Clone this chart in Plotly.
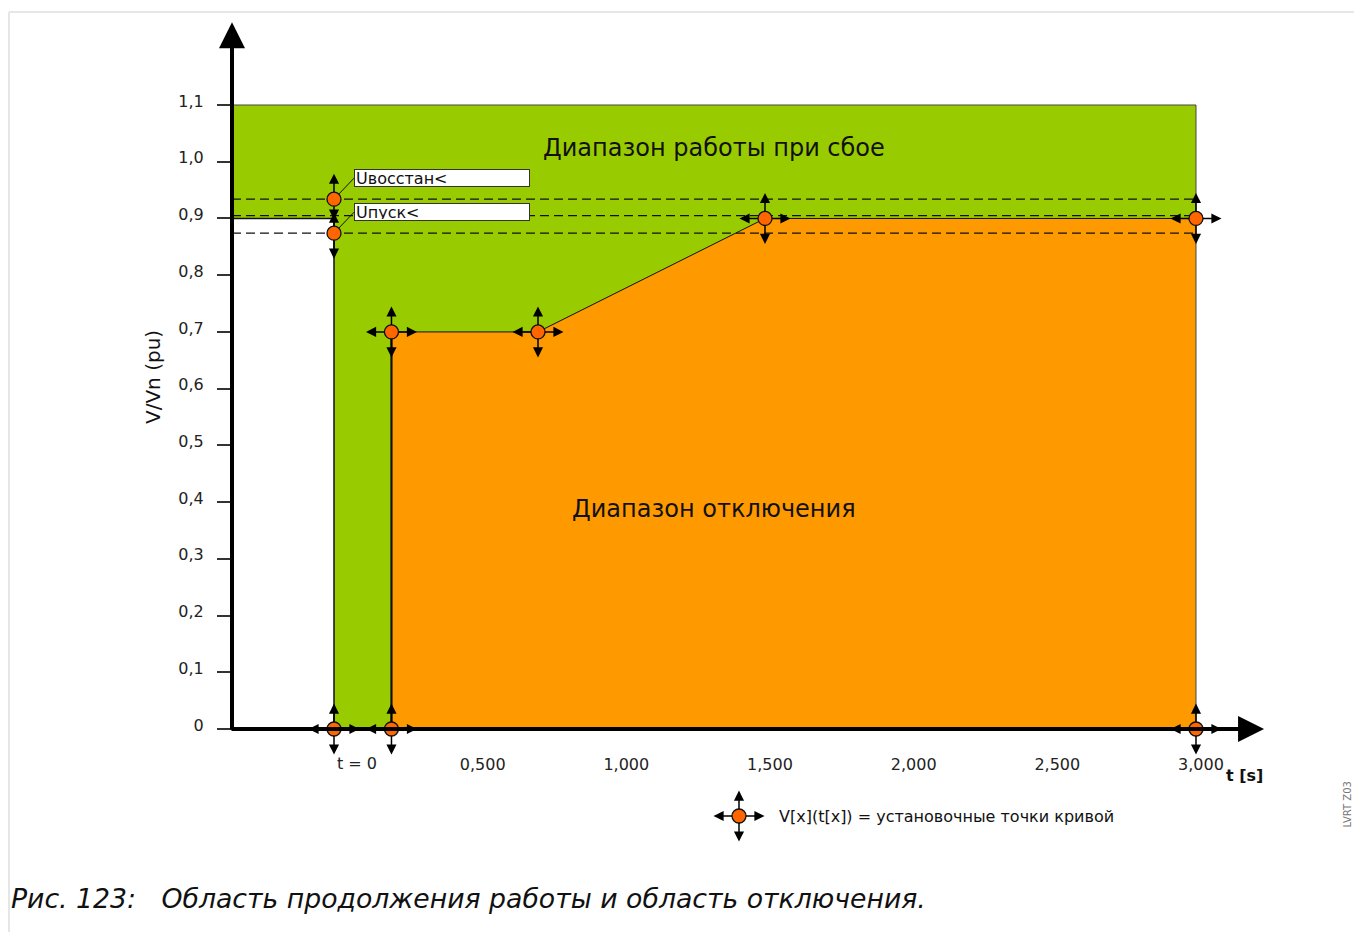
import plotly.graph_objects as go

# setpoints of the LVRT curve (t in s, V in pu)
curve_t = [0.2, 0.2, 0.71, 1.5, 3.0, 3.0]
curve_v = [0.0, 0.7, 0.7, 0.9, 0.9, 0.0]

# orange setpoint markers
point_t = [0.0, 0.0, 0.0, 0.2, 0.2, 0.71, 1.5, 3.0, 3.0]
point_v = [0.934, 0.874, 0.0, 0.0, 0.7, 0.7, 0.9, 0.9, 0.0]

# dashed helper levels
dash_levels = [0.934, 0.905, 0.874]

# upper limit of the ride-through band
v_top = 1.1
v_band = 0.9
t_end = 3.0

y_ticks = [0, 0.1, 0.2, 0.3, 0.4, 0.5, 0.6, 0.7, 0.8, 0.9, 1.0, 1.1]
y_ticktext = ["0", "0,1", "0,2", "0,3", "0,4", "0,5", "0,6", "0,7", "0,8", "0,9", "1,0", "1,1"]
x_ticks = [0.5, 1.0, 1.5, 2.0, 2.5, 3.0]
x_ticktext = ["0,500", "1,000", "1,500", "2,000", "2,500", "3,000"]

# drawing extents
T_AXIS = -0.355
T_TIP = 3.237
V_TIP = 1.246
LEG_T, LEG_V = 1.4095, -0.1534

# page body has an 8px margin, keep the figure inside the window (no scrollbars)
OFF = 8
W, H = 1362 - 2 * OFF, 940 - 2 * OFF
GREEN = "#99cc00"
ORANGE = "#ff9900"
DOT = "#ff6600"
FONT = "DejaVu Sans, Verdana, sans-serif"
SMALL = 16


def px(x):
    return (x - OFF) / W


def py(y):
    return 1 - (y - OFF) / H


fig = go.Figure()

# green ride-through area
fig.add_trace(go.Scatter(
    x=[T_AXIS, T_AXIS, t_end, t_end, 0, 0, T_AXIS],
    y=[v_band, v_top, v_top, 0, 0, v_band, v_band],
    fill="toself", fillcolor=GREEN, mode="lines", line=dict(width=0),
    hoverinfo="skip"))
# orange trip area
fig.add_trace(go.Scatter(
    x=curve_t + [curve_t[0]], y=curve_v + [curve_v[0]],
    fill="toself", fillcolor=ORANGE, mode="lines", line=dict(width=0),
    hoverinfo="skip"))

# outlines
fig.add_trace(go.Scatter(x=[T_AXIS, t_end, t_end], y=[v_top, v_top, 0],
                         mode="lines", line=dict(color="#444", width=1)))
fig.add_trace(go.Scatter(x=[T_AXIS, 0, 0], y=[v_band, v_band, 0],
                         mode="lines", line=dict(color="#111", width=1.5)))
fig.add_trace(go.Scatter(x=curve_t[1:5], y=curve_v[1:5],
                         mode="lines", line=dict(color="#111", width=1)))
fig.add_trace(go.Scatter(x=curve_t[:2], y=curve_v[:2],
                         mode="lines", line=dict(color="#111", width=2.2)))

for lv in dash_levels:
    fig.add_trace(go.Scatter(x=[T_AXIS, t_end], y=[lv, lv], mode="lines",
                             line=dict(color="#111", width=1.3, dash="9px,5px")))

# markers (incl. legend sample)
fig.add_trace(go.Scatter(
    x=point_t + [LEG_T], y=point_v + [LEG_V], mode="markers",
    marker=dict(size=14, color=DOT, line=dict(color="#111", width=1.3))))

annotations = []


def arrow(t, v, dx, dy):
    annotations.append(dict(
        x=t, y=v, ax=dx, ay=dy, xref="x", yref="y", text="", showarrow=True,
        arrowside="start", startarrowhead=2, startarrowsize=1.35,
        arrowwidth=1.5, arrowcolor="#000", standoff=7, startstandoff=0))


L = 27
for i, (t, v) in enumerate(zip(point_t, point_v)):
    if i == 0:
        arrow(t, v, 0, -L)
        arrow(t, v, 0, 22)
    elif i == 1:
        arrow(t, v, 0, -22)
        arrow(t, v, 0, L)
    else:
        for dx, dy in [(0, -L), (0, L), (-L, 0), (L, 0)]:
            arrow(t, v, dx, dy)
for dx, dy in [(0, -L), (0, L), (-L, 0), (L, 0)]:
    arrow(LEG_T, LEG_V, dx, dy)

# main axes with arrow heads
annotations.append(dict(x=T_AXIS, y=V_TIP, ax=T_AXIS, ay=-0.0035, xref="x", yref="y",
                        axref="x", ayref="y", text="", showarrow=True, arrowhead=2,
                        arrowsize=1.3, arrowwidth=4, arrowcolor="#000"))
annotations.append(dict(x=T_TIP, y=0, ax=T_AXIS - 0.007, ay=0, xref="x", yref="y",
                        axref="x", ayref="y", text="", showarrow=True, arrowhead=2,
                        arrowsize=1.3, arrowwidth=4, arrowcolor="#000"))

# setting labels with leader lines
for txt, v in [("Uвосстан<", point_v[0]), ("Uпуск<", point_v[1])]:
    annotations.append(dict(
        x=0, y=v, ax=20, ay=-21, xref="x", yref="y", text=txt, showarrow=True,
        arrowhead=0, arrowwidth=1, arrowcolor="#111", standoff=7,
        xanchor="left", yanchor="middle", align="left", width=172, height=14,
        bgcolor="white", bordercolor="#333", borderwidth=1, borderpad=1,
        font=dict(family=FONT, size=SMALL, color="#111")))

# region labels
mid_t = (T_AXIS + t_end) / 2
annotations.append(dict(x=mid_t, y=1.024, text="Диапазон работы при сбое", showarrow=False,
                        font=dict(family=FONT, size=24, color="#111")))
annotations.append(dict(x=mid_t, y=0.388, text="Диапазон отключения", showarrow=False,
                        font=dict(family=FONT, size=24, color="#111")))

annotations.append(dict(x=0, y=0, text="t = 0", showarrow=False, xanchor="left",
                        xshift=1, yshift=-34, font=dict(family=FONT, size=SMALL, color="#222")))
annotations.append(dict(x=t_end, y=0, text="<b>t [s]</b>", showarrow=False,
                        xshift=49, yshift=-46, font=dict(family=FONT, size=SMALL, color="#111")))
annotations.append(dict(x=LEG_T, y=LEG_V, text="V[x](t[x]) = установочные точки кривой",
                        showarrow=False, xanchor="left", xshift=38,
                        font=dict(family=FONT, size=SMALL, color="#111")))
annotations.append(dict(x=px(153), y=py(377), xref="paper", yref="paper",
                        xanchor="center", yanchor="middle",
                        text="V/Vn (pu)", textangle=-90, showarrow=False,
                        font=dict(family=FONT, size=20, color="#111")))
annotations.append(dict(x=1, y=py(805), xref="paper", yref="paper",
                        xanchor="right", yanchor="middle",
                        text="LVRT Z03", textangle=-90, showarrow=False,
                        font=dict(family=FONT, size=10, color="#777")))
annotations.append(dict(x=px(9), y=py(898), xref="paper", yref="paper",
                        xanchor="left", yanchor="middle",
                        text="<i>Рис. 123:\u00a0\u00a0\u00a0Область продолжения работы и область отключения.</i>",
                        showarrow=False, font=dict(family=FONT, size=26.7, color="#111")))

# page frame
shapes = [
    dict(type="line", xref="paper", yref="paper", x0=px(9), x1=1, y0=py(12), y1=py(12),
         line=dict(color="#e6e6e6", width=2)),
    dict(type="line", xref="paper", yref="paper", x0=px(9), x1=px(9), y0=0, y1=py(12),
         line=dict(color="#e6e6e6", width=2)),
]

# pixel mapping (window px): t=0 -> 334 px, 287.33 px/s ; V=0 -> 729 px, 567.27 px/pu
px_t, px_v = 287.33, 567.27
x0, y0 = 334 - OFF, 729 - OFF
fig.update_layout(
    width=W, height=H, margin=dict(l=0, r=0, t=0, b=0),
    paper_bgcolor="white", plot_bgcolor="white", showlegend=False,
    annotations=annotations, shapes=shapes,
    xaxis=dict(range=[-x0 / px_t, (W - x0) / px_t], showgrid=False, zeroline=False,
               showline=False, tickvals=x_ticks, ticktext=x_ticktext, ticks="",
               anchor="free", position=py(729), ticklabelstandoff=24, ticklabelshift=5,
               tickfont=dict(family=FONT, size=SMALL, color="#222")),
    yaxis=dict(range=[(y0 - H) / px_v, y0 / px_v], showgrid=False, zeroline=False,
               showline=False, tickvals=y_ticks, ticktext=y_ticktext, ticks="outside",
               ticklen=15, tickwidth=1.5, tickcolor="#333", anchor="free",
               position=px(232), ticklabelstandoff=10, ticklabelshift=-4,
               tickfont=dict(family=FONT, size=SMALL, color="#222")),
)

fig.write_html("out.html")
